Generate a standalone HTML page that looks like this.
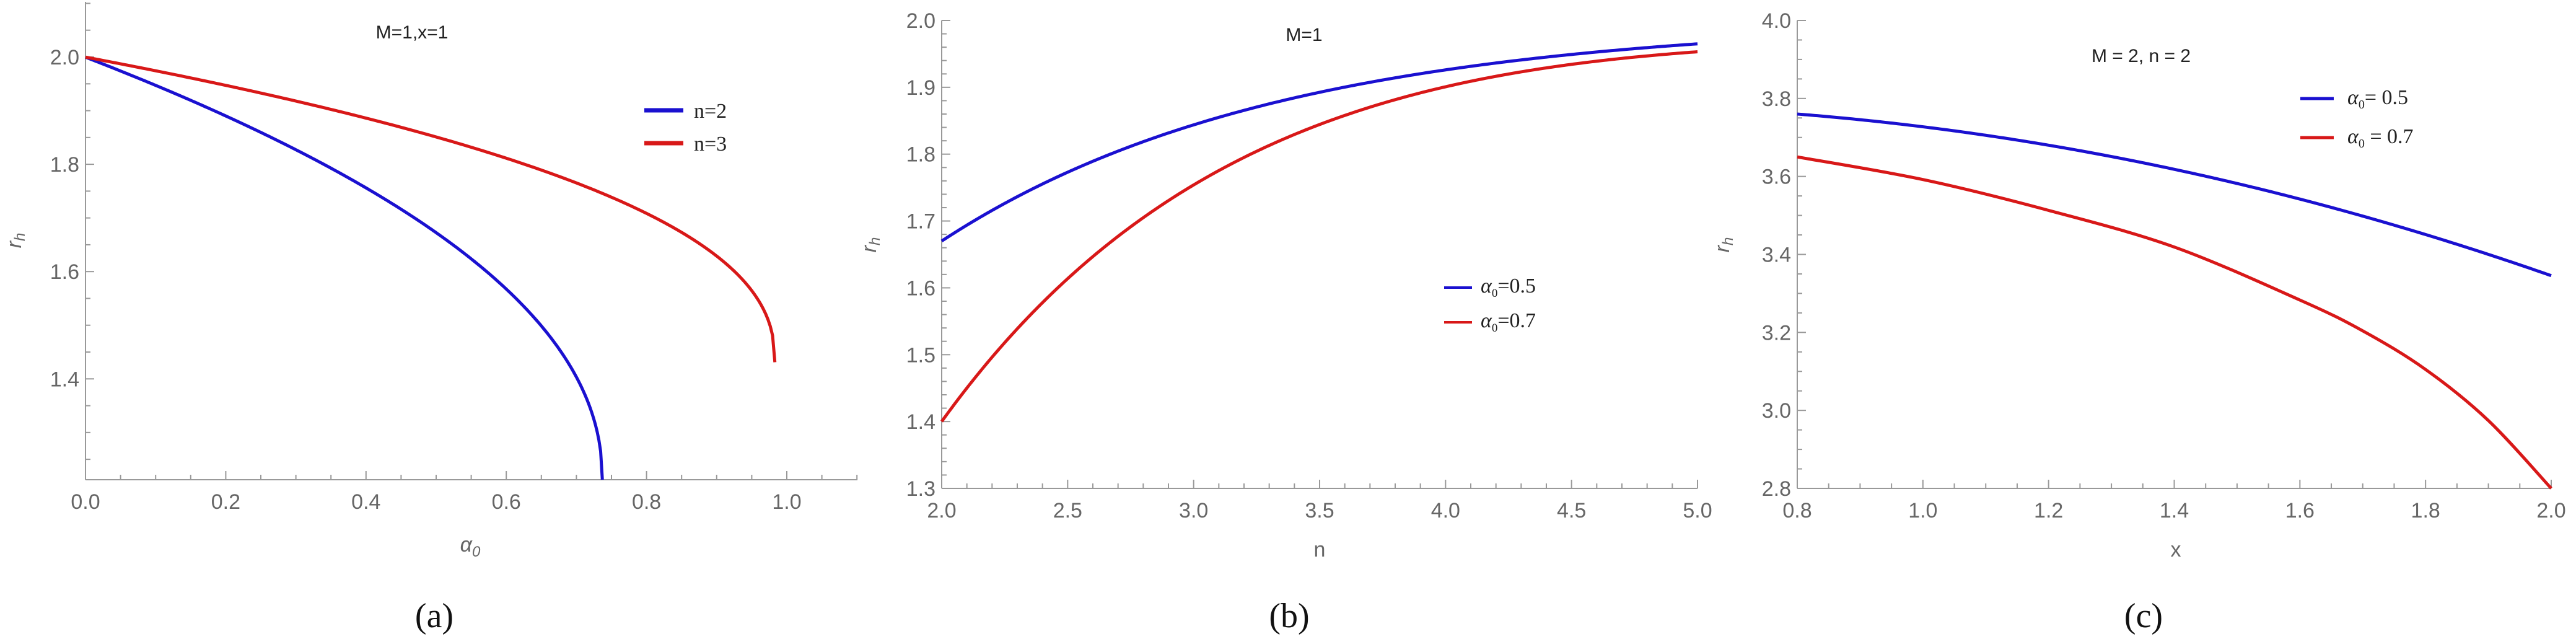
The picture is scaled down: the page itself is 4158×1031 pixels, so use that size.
<!DOCTYPE html>
<html><head><meta charset="utf-8"><style>
html,body{margin:0;padding:0;background:#fff;}
svg{display:block}
.tl{font-family:"Liberation Sans",sans-serif;font-size:34px;fill:#666;}
.tt{font-family:"Liberation Sans",sans-serif;font-size:30px;fill:#222;}
.lg{font-family:"Liberation Serif",serif;font-size:34px;fill:#222;}
.cap{font-family:"Liberation Serif",serif;font-size:56px;fill:#111;}
</style></head><body>
<svg id="s" width="4158" height="1031" viewBox="0 0 4158 1031" xmlns="http://www.w3.org/2000/svg">
<rect width="4158" height="1031" fill="#fff"/>
<g id="g"></g>
<text class="tt" x="665" y="62" text-anchor="middle">M=1,x=1</text>
<text class="tt" x="2105" y="66" text-anchor="middle">M=1</text>
<text class="tt" x="3456" y="100" text-anchor="middle">M = 2, n = 2</text>
<line x1="1040" y1="178" x2="1103" y2="178" stroke="#1a10d0" stroke-width="7"/>
<line x1="1040" y1="231" x2="1103" y2="231" stroke="#d81818" stroke-width="7"/>
<text class="lg" x="1120" y="190" font-size="36">n=2</text>
<text class="lg" x="1120" y="243" font-size="36">n=3</text>
<line x1="2331" y1="464" x2="2376" y2="464" stroke="#1a10d0" stroke-width="4"/>
<line x1="2331" y1="520" x2="2376" y2="520" stroke="#d81818" stroke-width="4"/>
<text class="lg" x="2390" y="472" font-size="26"><tspan font-style="italic">α</tspan><tspan font-size="19" dy="7">0</tspan><tspan dy="-7">=0.5</tspan></text>
<text class="lg" x="2390" y="528" font-size="26"><tspan font-style="italic">α</tspan><tspan font-size="19" dy="7">0</tspan><tspan dy="-7">=0.7</tspan></text>
<line x1="3713" y1="159" x2="3767" y2="159" stroke="#1a10d0" stroke-width="5"/>
<line x1="3713" y1="222" x2="3767" y2="222" stroke="#d81818" stroke-width="5"/>
<text class="lg" x="3789" y="168" font-size="28"><tspan font-style="italic">α</tspan><tspan font-size="20" dy="7">0</tspan><tspan dy="-7">= 0.5</tspan></text>
<text class="lg" x="3789" y="231" font-size="28"><tspan font-style="italic">α</tspan><tspan font-size="20" dy="7">0</tspan><tspan dy="-7"> = 0.7</tspan></text>
<text class="tl" x="759" y="890" text-anchor="middle" font-style="italic">α<tspan font-size="24" dy="8">0</tspan></text>
<text class="tl" x="2130" y="898" text-anchor="middle">n</text>
<text class="tl" x="3512" y="898" text-anchor="middle">x</text>
<text class="tl" transform="translate(34,388) rotate(-90)" text-anchor="middle" font-style="italic">r<tspan font-size="24" dy="6">h</tspan></text>
<text class="tl" transform="translate(1414,395) rotate(-90)" text-anchor="middle" font-style="italic">r<tspan font-size="24" dy="6">h</tspan></text>
<text class="tl" transform="translate(2791,395) rotate(-90)" text-anchor="middle" font-style="italic">r<tspan font-size="24" dy="6">h</tspan></text>
<text class="cap" x="701" y="1012" text-anchor="middle">(a)</text>
<text class="cap" x="2081" y="1012" text-anchor="middle">(b)</text>
<text class="cap" x="3460" y="1012" text-anchor="middle">(c)</text>
</svg>
<script>
const g=document.getElementById('g');
function el(t,a,txt){const e=document.createElementNS('http://www.w3.org/2000/svg',t);for(const k in a)e.setAttribute(k,a[k]);if(txt!=null)e.textContent=txt;g.appendChild(e);return e;}
function isMaj(v,M){return Math.abs(Math.round(v/M)*M-v)<1e-6;}
function panel(P){
 const X=v=>P.x0+(v-P.xa)/(P.xb-P.xa)*(P.x1-P.x0);
 const Y=v=>P.y0+(v-P.ya)/(P.yb-P.ya)*(P.y1-P.y0);
 el('line',{x1:P.x0,y1:P.y0,x2:P.xe,y2:P.y0,stroke:'#999','stroke-width':2});
 el('line',{x1:P.x0,y1:P.y0,x2:P.x0,y2:P.ye,stroke:'#999','stroke-width':2});
 let s0=Math.ceil(P.xa/P.xm-1e-6);
 for(let i=s0;;i++){const v=i*P.xm;const px=X(v);if(px>P.xe+1)break;
  const maj=isMaj(v,P.xM);
  el('line',{x1:px,y1:P.y0,x2:px,y2:P.y0-(maj?14:8),stroke:'#999','stroke-width':2});
  if(maj)el('text',{class:'tl',x:px,y:P.y0+47,'text-anchor':'middle'},v.toFixed(1));}
 s0=Math.ceil(P.ya/P.ym-1e-6);
 for(let i=s0;;i++){const v=i*P.ym;const py=Y(v);if(py<P.ye-1)break;
  const maj=isMaj(v,P.yM);
  el('line',{x1:P.x0,y1:py,x2:P.x0+(maj?14:8),y2:py,stroke:'#999','stroke-width':2});
  if(maj)el('text',{class:'tl',x:P.x0-10,y:py+12,'text-anchor':'end'},v.toFixed(1));}
 for(const s of P.series){
  let pts;
  if(s.f){pts=[];const N=300;for(let i=0;i<=N;i++){const t=s.a+(s.b-s.a)*Math.pow(i/N,s.k||1);pts.push([X(t),Y(s.f(t))]);}
   el('polyline',{points:pts.map(p=>p[0].toFixed(2)+','+p[1].toFixed(2)).join(' '),fill:'none',stroke:s.c,'stroke-width':5});continue;}
  pts=s.d.map(p=>[X(p[0]),Y(p[1])]);
  let d='M'+pts[0][0]+','+pts[0][1];
  for(let i=0;i<pts.length-1;i++){const p0=pts[Math.max(0,i-1)],p1=pts[i],p2=pts[i+1],p3=pts[Math.min(pts.length-1,i+2)];
   d+=`C${p1[0]+(p2[0]-p0[0])/6},${p1[1]+(p2[1]-p0[1])/6} ${p2[0]-(p3[0]-p1[0])/6},${p2[1]-(p3[1]-p1[1])/6} ${p2[0]},${p2[1]}`;}
  el('path',{d:d,fill:'none',stroke:s.c,'stroke-width':5});}
}
const B='#1a10d0',R='#d81818';
panel({x0:138,x1:1270,xa:0,xb:1,xe:1384,y0:774,y1:92,ya:1.212,yb:2.0,ye:3,xm:0.05,xM:0.2,ym:0.05,yM:0.2,
 series:[{c:B,a:0,b:0.737,f:t=>1.212+0.91*Math.pow(Math.max(0,0.737-t),0.473)*(1+0.0*t)},
 {c:R,a:0,b:0.983,f:t=>1.431+0.573*Math.pow(Math.max(0,0.983-t),0.427)}]});
panel({x0:1520,x1:2740,xa:2,xb:5,xe:2740,y0:788,y1:33,ya:1.3,yb:2.0,ye:33,xm:0.1,xM:0.5,ym:0.02,yM:0.1,
 series:[{c:B,a:2,b:5,f:n=>2-0.33*Math.exp(-0.748*(n-2))},
 {c:R,a:2,b:5,f:n=>2-0.6*Math.exp(-0.85*(n-2))+0.012*Math.sin(Math.PI*(n-2)/3)}]});
panel({x0:2901,x1:4118,xa:0.8,xb:2.0,xe:4118,y0:788,y1:33,ya:2.8,yb:4.0,ye:33,xm:0.05,xM:0.2,ym:0.05,yM:0.2,
 series:[{c:B,a:0.8,b:2,f:x=>3.76-0.127*(x-0.8)-0.182*(x-0.8)*(x-0.8)},
 {c:R,d:[[0.8,3.65],[1.0,3.592],[1.2,3.513],[1.4,3.419],[1.6,3.283],[1.7,3.204],[1.8,3.105],[1.9,2.974],[2.0,2.8]]}]});
</script>
</body></html>
